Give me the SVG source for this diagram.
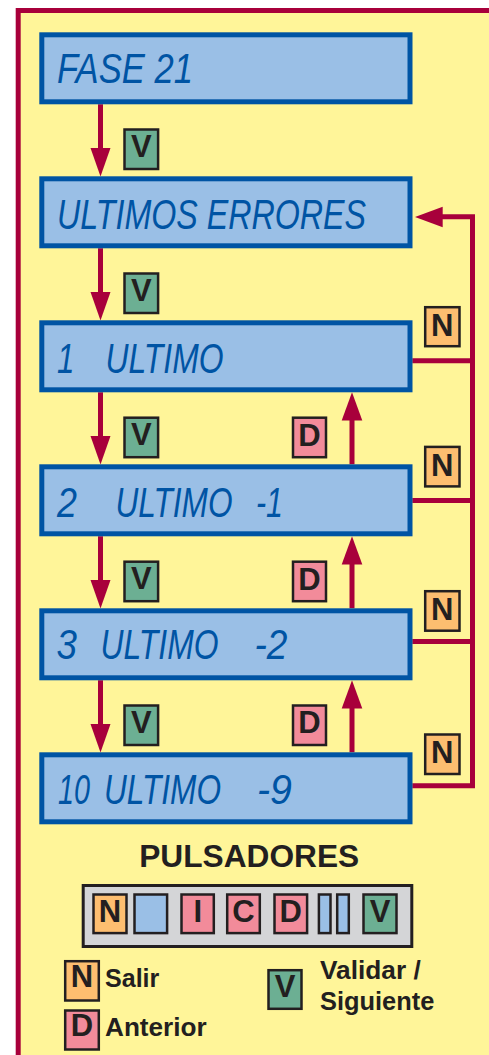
<svg xmlns="http://www.w3.org/2000/svg" width="489" height="1055" viewBox="0 0 489 1055">
<style>
.lcd{fill:#9ABFE6;stroke:#0054A4;stroke-width:5}
.lt{font-family:"Liberation Sans",Arial,sans-serif;font-style:italic;font-size:43px;fill:#0054A4}
.bd{stroke:#231F20;stroke-width:2.5}
.bV{fill:#6CAF93}
.bD{fill:#F28B9A}
.bN{fill:#FDBE70}
.bB{fill:#9ABFE6}
.bl{font-family:"Liberation Sans",Arial,sans-serif;font-weight:bold;font-size:31px;fill:#231F20;text-anchor:middle}
.lg{font-family:"Liberation Sans",Arial,sans-serif;font-weight:bold;font-size:25px;fill:#231F20}
.ln{fill:none;stroke:#A8003B;stroke-width:5}
.ah{fill:#A8003B}
</style>
<rect x="0" y="0" width="489" height="1055" fill="#ffffff"/>
<rect x="18.2" y="10.5" width="520" height="1100" fill="#FFF599" stroke="#A8003B" stroke-width="5"/>

<g id="connectors">
  <path class="ln" d="M100.5 104.3V150 M100.5 248.3V294 M100.5 392.3V438 M100.5 536.3V582 M100.5 680.3V726" stroke-width="5.6"/>
  <polygon class="ah" points="90.5,148 110.5,148 100.5,176.5"/>
  <polygon class="ah" points="90.5,292 110.5,292 100.5,320.5"/>
  <polygon class="ah" points="90.5,436 110.5,436 100.5,464.5"/>
  <polygon class="ah" points="90.5,580 110.5,580 100.5,608.5"/>
  <polygon class="ah" points="90.5,724 110.5,724 100.5,752.5"/>
  <path class="ln" d="M352 464.3V418 M352 608.3V562 M352 752.3V706" stroke-width="5.6"/>
  <polygon class="ah" points="341.7,420.5 362.3,420.5 352,392.3"/>
  <polygon class="ah" points="341.7,564.5 362.3,564.5 352,536.3"/>
  <polygon class="ah" points="341.7,708.5 362.3,708.5 352,680.3"/>
  <path class="ln" d="M412.3 785.8H472.5V216.7H440" stroke-width="4.8"/>
  <path class="ln" d="M412.3 360.8H472.5 M412.3 500.5H472.5 M412.3 641.5H472.5" stroke-width="4.8"/>
  <polygon class="ah" points="415,217 442.7,206.7 442.7,227.3"/>
</g>

<g id="lcd1">
  <rect class="lcd" x="41.8" y="34.8" width="368.2" height="67"/>
  <text class="lt" transform="scale(0.73,1)" x="78.08" y="83.3" textLength="186.3" lengthAdjust="spacingAndGlyphs">FASE 21</text>
</g>
<g id="lcd2">
  <rect class="lcd" x="41.8" y="178.8" width="368.2" height="67"/>
  <text class="lt" transform="scale(0.73,1)" x="78.08" y="229.3" textLength="423.3" lengthAdjust="spacingAndGlyphs">ULTIMOS ERRORES</text>
</g>
<g id="lcd3">
  <rect class="lcd" x="41.8" y="322.8" width="368.2" height="67"/>
  <text class="lt" transform="scale(0.73,1)" x="78.08" y="372.7">1</text>
  <text class="lt" transform="scale(0.73,1)" x="144.52" y="372.7" textLength="161.6" lengthAdjust="spacingAndGlyphs">ULTIMO</text>
</g>
<g id="lcd4">
  <rect class="lcd" x="41.8" y="466.8" width="368.2" height="67"/>
  <text class="lt" transform="scale(0.73,1)" x="78.1" y="516.7" textLength="27.4" lengthAdjust="spacingAndGlyphs">2</text>
  <text class="lt" transform="scale(0.73,1)" x="158.22" y="516.7" textLength="160.3" lengthAdjust="spacingAndGlyphs">ULTIMO</text>
  <text class="lt" transform="scale(0.73,1)" x="350.68" y="516.7" textLength="37" lengthAdjust="spacingAndGlyphs">-1</text>
</g>
<g id="lcd5">
  <rect class="lcd" x="41.8" y="610.8" width="368.2" height="67"/>
  <text class="lt" transform="scale(0.73,1)" x="77.4" y="659.3" textLength="28" lengthAdjust="spacingAndGlyphs">3</text>
  <text class="lt" transform="scale(0.73,1)" x="137.67" y="659.3" textLength="161.6" lengthAdjust="spacingAndGlyphs">ULTIMO</text>
  <text class="lt" transform="scale(0.73,1)" x="348.63" y="659.3" textLength="45.2" lengthAdjust="spacingAndGlyphs">-2</text>
</g>
<g id="lcd6">
  <rect class="lcd" x="41.8" y="754.8" width="368.2" height="67"/>
  <text class="lt" transform="scale(0.73,1)" x="79.45" y="804" textLength="43.8" lengthAdjust="spacingAndGlyphs">10</text>
  <text class="lt" transform="scale(0.73,1)" x="142.47" y="804" textLength="160.3" lengthAdjust="spacingAndGlyphs">ULTIMO</text>
  <text class="lt" transform="scale(0.73,1)" x="352.05" y="804" textLength="47.9" lengthAdjust="spacingAndGlyphs">-9</text>
</g>

<g id="badgeV1"><rect class="bd bV" x="124.5" y="129.5" width="33.6" height="39.5"/><text class="bl" x="141.3" y="156.8">V</text></g>
<g id="badgeV2"><rect class="bd bV" x="124.5" y="273.5" width="33.6" height="39.5"/><text class="bl" x="141.3" y="300.8">V</text></g>
<g id="badgeV3"><rect class="bd bV" x="124.5" y="417.7" width="33.6" height="39.5"/><text class="bl" x="141.3" y="445">V</text></g>
<g id="badgeV4"><rect class="bd bV" x="124.5" y="561.7" width="33.6" height="39.5"/><text class="bl" x="141.3" y="589">V</text></g>
<g id="badgeV5"><rect class="bd bV" x="124.5" y="705.5" width="33.6" height="39.5"/><text class="bl" x="141.3" y="732.8">V</text></g>

<g id="badgeD1"><rect class="bd bD" x="293" y="417.7" width="33" height="39.5"/><text class="bl" x="309.5" y="445.5">D</text></g>
<g id="badgeD2"><rect class="bd bD" x="293" y="561.7" width="33" height="39.5"/><text class="bl" x="309.5" y="589.5">D</text></g>
<g id="badgeD3"><rect class="bd bD" x="293" y="705.5" width="33" height="39.5"/><text class="bl" x="309.5" y="733.3">D</text></g>

<g id="badgeN1"><rect class="bd bN" x="425.2" y="307.2" width="34.3" height="39"/><text class="bl" x="442.3" y="335.7">N</text></g>
<g id="badgeN2"><rect class="bd bN" x="425.2" y="446.9" width="34.3" height="39.5"/><text class="bl" x="442.3" y="475.5">N</text></g>
<g id="badgeN3"><rect class="bd bN" x="425.2" y="591.2" width="34.3" height="39.5"/><text class="bl" x="442.3" y="619.8">N</text></g>
<g id="badgeN4"><rect class="bd bN" x="425.2" y="734.5" width="34.3" height="39.5"/><text class="bl" x="442.3" y="763">N</text></g>

<g id="pulsadores">
  <text class="bl" x="249.2" y="866.7" textLength="220" lengthAdjust="spacingAndGlyphs">PULSADORES</text>
  <rect x="83.2" y="885.5" width="328.6" height="61" fill="#D4D5D7" stroke="#231F20" stroke-width="3"/>
  <rect class="bd bN" x="93.5" y="894.5" width="33" height="38.6"/><text class="bl" x="110" y="921.7">N</text>
  <rect class="bd bB" x="134.5" y="894.5" width="32.6" height="38.6"/>
  <rect class="bd bD" x="181.5" y="894.5" width="32.3" height="38.6"/><text class="bl" x="197.7" y="921.7">I</text>
  <rect class="bd bD" x="227.2" y="894.5" width="32.6" height="38.6"/><text class="bl" x="243.5" y="921.7">C</text>
  <rect class="bd bD" x="274.5" y="894.5" width="32.6" height="38.6"/><text class="bl" x="290.8" y="921.7">D</text>
  <rect class="bd bB" x="318.9" y="894.5" width="11.6" height="38.6"/>
  <rect class="bd bB" x="337.2" y="894.5" width="11.6" height="38.6"/>
  <rect class="bd bV" x="363.5" y="894.5" width="33" height="38.6"/><text class="bl" x="380" y="921.7">V</text>
</g>

<g id="legend">
  <rect class="bd bN" x="65.2" y="961.2" width="33.6" height="39.3"/><text class="bl" x="82" y="987.3">N</text>
  <text class="lg" x="105" y="987.3" textLength="54.3" lengthAdjust="spacingAndGlyphs">Salir</text>
  <rect class="bd bD" x="65.2" y="1010.5" width="33.6" height="39"/><text class="bl" x="82" y="1036">D</text>
  <text class="lg" x="105" y="1036" textLength="101.7" lengthAdjust="spacingAndGlyphs">Anterior</text>
  <rect class="bd bV" x="268.5" y="970.2" width="33" height="38.6"/><text class="bl" x="285" y="996.7">V</text>
  <text class="lg" x="320" y="979.3" textLength="100.7" lengthAdjust="spacingAndGlyphs">Validar /</text>
  <text class="lg" x="320" y="1010" textLength="114.3" lengthAdjust="spacingAndGlyphs">Siguiente</text>
</g>
</svg>
